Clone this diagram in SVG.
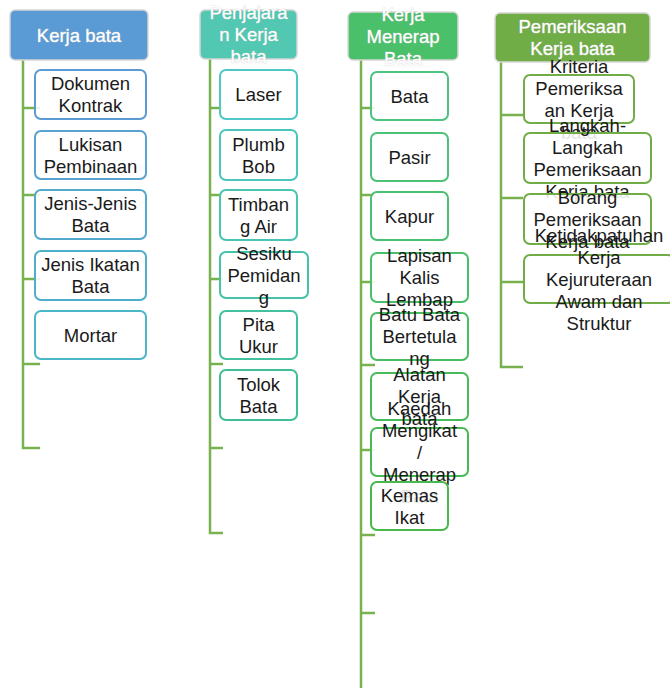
<svg xmlns="http://www.w3.org/2000/svg" width="670" height="688" viewBox="0 0 670 688">
<style>
.hdr{stroke:#d6d6d6;stroke-width:1.5}
.box{fill:#ffffff;fill-opacity:0.88;stroke-width:2}
.t{font-family:"Liberation Sans",Arial,sans-serif;font-size:18.5px;fill:#1a1a1a;text-anchor:middle}
.h{font-family:"Liberation Sans",Arial,sans-serif;font-size:18.5px;fill:#ffffff;text-anchor:middle;stroke:#cfcfcf;stroke-width:0.6;paint-order:stroke}
.c{fill:none;stroke:#77B24F;stroke-width:2.5}
</style>
<rect width="670" height="688" fill="#ffffff"/>
<g id="connectors">
<path class="c" d="M23,60 V448 H40 M23,108 H40 M23,195 H40 M23,279 H40 M23,364 H40"/>
<path class="c" d="M210,59 V533 H223 M210,108 H223 M210,195 H223 M210,279 H223 M210,364 H223 M210,448 H223"/>
<path class="c" d="M361,60 V688 M361,108 H375 M361,195 H375 M361,282 H375 M361,365 H375 M361,450 H375 M361,535 H375 M361,613 H375"/>
<path class="c" d="M501,62 V367 H523 M501,115 H523 M501,198 H523 M501,282 H523"/>
</g>
<g id="col1">
<g id="h1"><rect class="hdr" x="10" y="10" width="138" height="50" rx="5" fill="#5B9BD5"/><text class="h" x="79" y="41.5">Kerja bata</text></g>
<g id="n1a"><rect class="box" x="35" y="70" width="111" height="49" rx="6" stroke="#5B9BD5"/><text class="t" x="90.5" y="90">Dokumen</text><text class="t" x="90.5" y="112">Kontrak</text></g>
<g id="n1b"><rect class="box" x="35" y="131" width="111" height="48" rx="6" stroke="#57A2D1"/><text class="t" x="90.5" y="150.5">Lukisan</text><text class="t" x="90.5" y="172.5">Pembinaan</text></g>
<g id="n1c"><rect class="box" x="35" y="190" width="111" height="49" rx="6" stroke="#53A8CE"/><text class="t" x="90.5" y="210">Jenis-Jenis</text><text class="t" x="90.5" y="232">Bata</text></g>
<g id="n1d"><rect class="box" x="35" y="251" width="111" height="49" rx="6" stroke="#4FAFCA"/><text class="t" x="90.5" y="271">Jenis Ikatan</text><text class="t" x="90.5" y="293">Bata</text></g>
<g id="n1e"><rect class="box" x="35" y="311" width="111" height="48" rx="6" stroke="#4BB6C7"/><text class="t" x="90.5" y="341.5">Mortar</text></g>
</g>
<g id="col2">
<g id="h2"><rect class="hdr" x="200" y="10" width="97" height="49" rx="5" fill="#52C8B2"/><text class="h" x="248.5" y="19">Penjajara</text><text class="h" x="248.5" y="41">n Kerja</text><text class="h" x="248.5" y="63">bata</text></g>
<g id="n2a"><rect class="box" x="220" y="70" width="77" height="49" rx="6" stroke="#4EC8C6"/><text class="t" x="258.5" y="101">Laser</text></g>
<g id="n2b"><rect class="box" x="220" y="130" width="77" height="50" rx="6" stroke="#4BC6BC"/><text class="t" x="258.5" y="150.5">Plumb</text><text class="t" x="258.5" y="172.5">Bob</text></g>
<g id="n2c"><rect class="box" x="220" y="190" width="77" height="50" rx="6" stroke="#48C4B2"/><text class="t" x="258.5" y="210.5">Timban</text><text class="t" x="258.5" y="232.5">g Air</text></g>
<g id="n2d"><rect class="box" x="220" y="252" width="88" height="46" rx="6" stroke="#45C2A9"/><text class="t" x="264" y="259.5">Sesiku</text><text class="t" x="264" y="281.5">Pemidan</text><text class="t" x="264" y="303.5">g</text></g>
<g id="n2e"><rect class="box" x="220" y="311" width="77" height="48" rx="6" stroke="#42C0A0"/><text class="t" x="258.5" y="330.5">Pita</text><text class="t" x="258.5" y="352.5">Ukur</text></g>
<g id="n2f"><rect class="box" x="220" y="370" width="77" height="50" rx="6" stroke="#3FBE98"/><text class="t" x="258.5" y="390.5">Tolok</text><text class="t" x="258.5" y="412.5">Bata</text></g>
</g>
<g id="col3">
<g id="h3"><rect class="hdr" x="348" y="12" width="110" height="48" rx="5" fill="#4AC06A"/><text class="h" x="403" y="20.5">Kerja</text><text class="h" x="403" y="42.5">Menerap</text><text class="h" x="403" y="64.5">Bata</text></g>
<g id="n3a"><rect class="box" x="371" y="72" width="77" height="48" rx="6" stroke="#4CC37E"/><text class="t" x="409.5" y="102.5">Bata</text></g>
<g id="n3b"><rect class="box" x="371" y="133" width="77" height="48" rx="6" stroke="#4BC278"/><text class="t" x="409.5" y="163.5">Pasir</text></g>
<g id="n3c"><rect class="box" x="371" y="192" width="77" height="48" rx="6" stroke="#4AC072"/><text class="t" x="409.5" y="222.5">Kapur</text></g>
<g id="n3d"><rect class="box" x="371" y="253" width="97" height="49" rx="6" stroke="#49BF6B"/><text class="t" x="419.5" y="262">Lapisan</text><text class="t" x="419.5" y="284">Kalis</text><text class="t" x="419.5" y="306">Lembap</text></g>
<g id="n3e"><rect class="box" x="371" y="313" width="97" height="47" rx="6" stroke="#49BD64"/><text class="t" x="419.5" y="321">Batu Bata</text><text class="t" x="419.5" y="343">Bertetula</text><text class="t" x="419.5" y="365">ng</text></g>
<g id="n3f"><rect class="box" x="371" y="373" width="97" height="47" rx="6" stroke="#48BC5D"/><text class="t" x="419.5" y="381">Alatan</text><text class="t" x="419.5" y="403">Kerja</text><text class="t" x="419.5" y="425">bata</text></g>
<g id="n3g"><rect class="box" x="371" y="428" width="97" height="48" rx="6" stroke="#48BA55"/><text class="t" x="419.5" y="414.5">Kaedah</text><text class="t" x="419.5" y="436.5">Mengikat</text><text class="t" x="419.5" y="458.5">/</text><text class="t" x="419.5" y="480.5">Menerap</text><text class="t" x="419.5" y="502.5">Bata</text></g>
<g id="n3h"><rect class="box" x="371" y="482" width="77" height="48" rx="6" stroke="#47B94D"/><text class="t" x="409.5" y="501.5">Kemas</text><text class="t" x="409.5" y="523.5">Ikat</text></g>
</g>
<g id="col4">
<g id="h4"><rect class="hdr" x="495" y="13" width="155" height="49" rx="5" fill="#70AD47"/><text class="h" x="572.5" y="33">Pemeriksaan</text><text class="h" x="572.5" y="55">Kerja bata</text></g>
<g id="n4a"><rect class="box" x="524" y="75" width="110" height="48" rx="6" stroke="#70AD47"/><text class="t" x="579" y="72.5">Kriteria</text><text class="t" x="579" y="94.5">Pemeriksa</text><text class="t" x="579" y="116.5">an Kerja</text><text class="t" x="579" y="138.5">bata</text></g>
<g id="n4b"><rect class="box" x="524" y="133" width="127" height="50" rx="6" stroke="#70AD47"/><text class="t" x="587.5" y="131.5">Langkah-</text><text class="t" x="587.5" y="153.5">Langkah</text><text class="t" x="587.5" y="175.5">Pemeriksaan</text><text class="t" x="587.5" y="197.5">Kerja bata</text></g>
<g id="n4c"><rect class="box" x="524" y="194" width="127" height="50" rx="6" stroke="#70AD47"/><text class="t" x="587.5" y="203.5">Borang</text><text class="t" x="587.5" y="225.5">Pemeriksaan</text><text class="t" x="587.5" y="247.5">Kerja bata</text></g>
<g id="n4d"><rect class="box" x="524" y="255" width="150" height="48" rx="6" stroke="#70AD47"/><text class="t" x="599" y="241.5">Ketidakpatuhan</text><text class="t" x="599" y="263.5">Kerja</text><text class="t" x="599" y="285.5">Kejuruteraan</text><text class="t" x="599" y="307.5">Awam dan</text><text class="t" x="599" y="329.5">Struktur</text></g>
</g>
</svg>
